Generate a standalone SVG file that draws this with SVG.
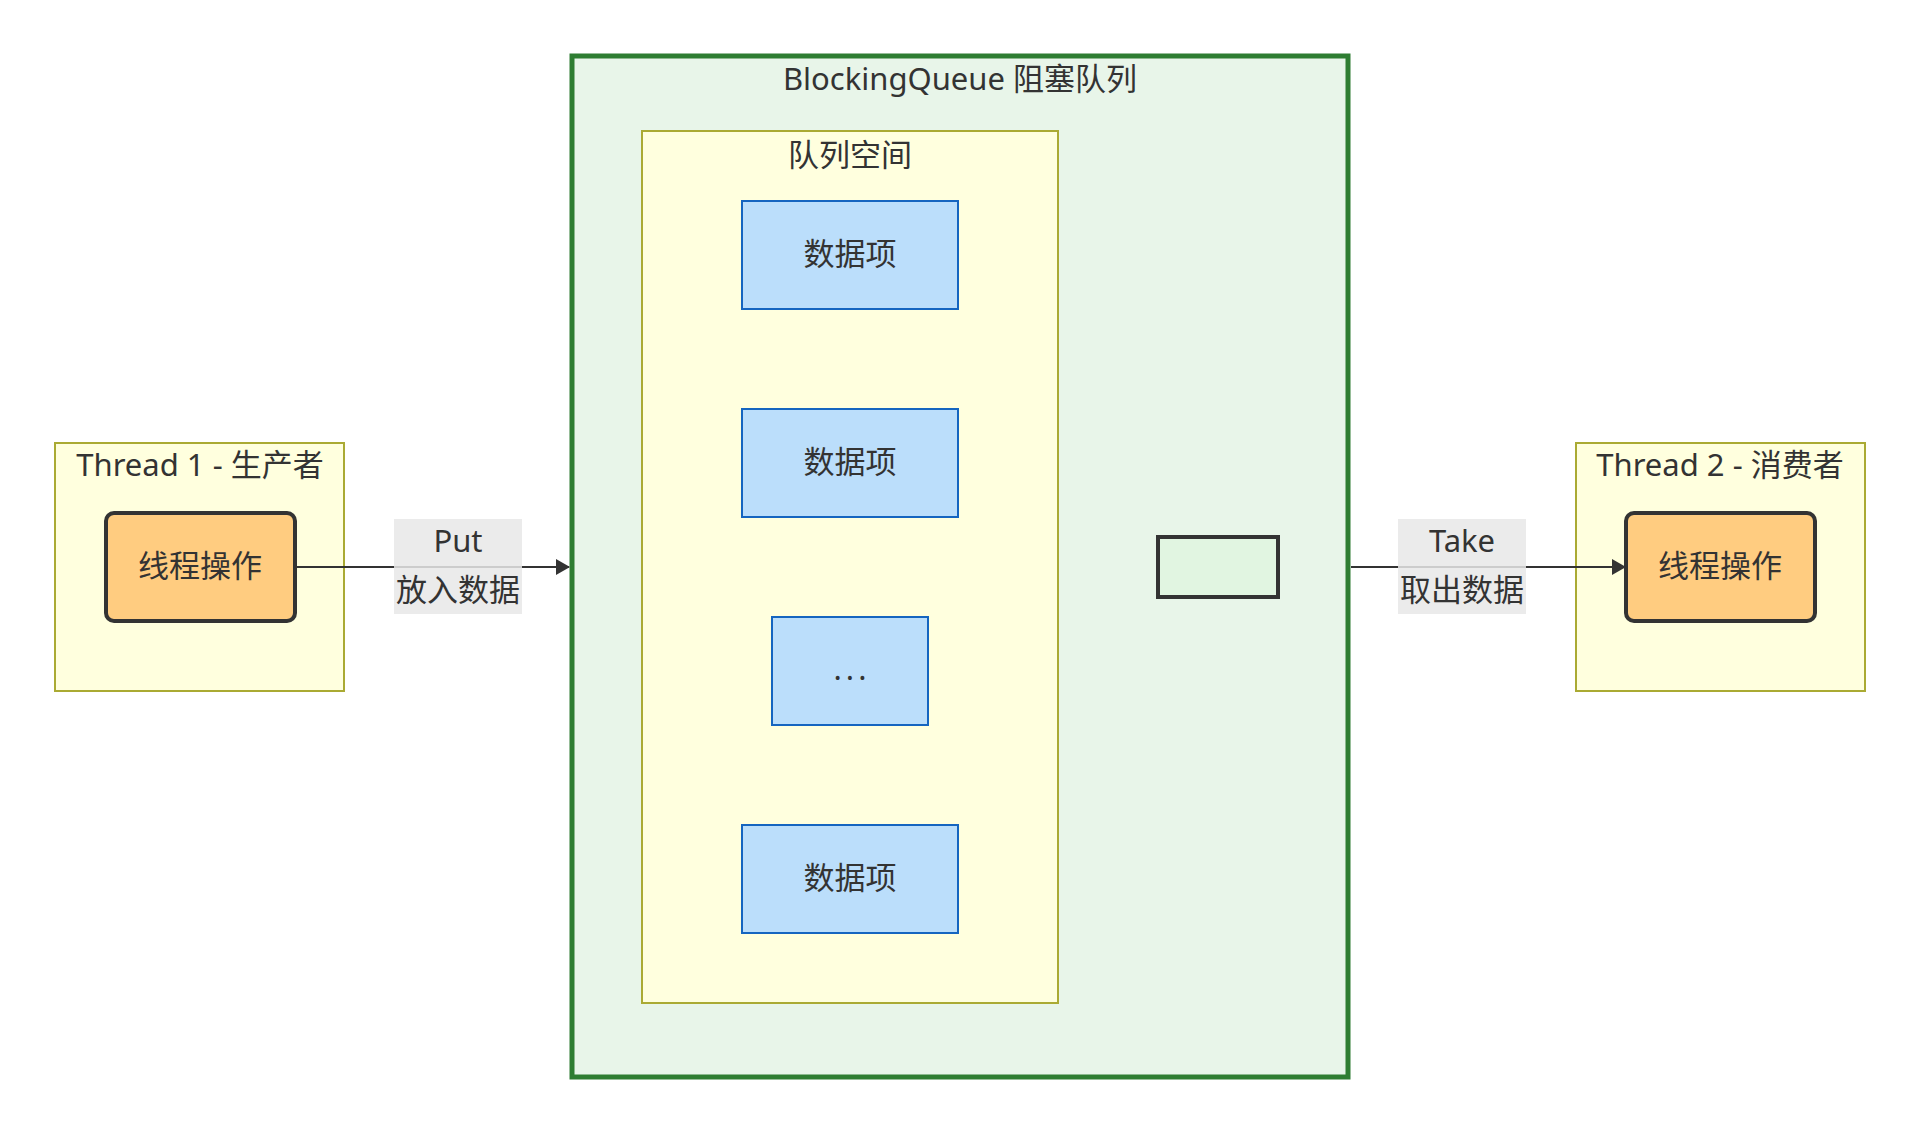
<svg xmlns="http://www.w3.org/2000/svg" width="1920" height="1134" viewBox="0 0 1920 1134">
<style>
  text { font-family: "Noto Sans", "Noto Sans CJK SC", sans-serif; font-size: 31px; fill: #333333; text-anchor: middle; }
  .cluster { fill: #ffffde; stroke: #aaaa33; stroke-width: 2; }
  .thread { fill: #ffcc80; stroke: #333333; stroke-width: 4; }
  .item { fill: #bbdefb; stroke: #1565c0; stroke-width: 2; }
  .edge { fill: none; stroke: #333333; stroke-width: 2; }
  .elabel { fill: #e8e8e8; fill-opacity: 0.85; }
</style>
<defs>
  <marker id="arrow" markerUnits="userSpaceOnUse" markerWidth="14" markerHeight="16" viewBox="0 0 14 16" refX="13" refY="8" orient="auto">
    <path d="M0,0 L14,8 L0,16 z" fill="#333333"/>
  </marker>
</defs>
<rect width="1920" height="1134" fill="#ffffff"/>

<g id="blockingqueue">
  <rect x="572" y="56" width="776" height="1021" fill="#e8f5e9" stroke="#2e7d32" stroke-width="5"/>
  <text x="960" y="90">BlockingQueue 阻塞队列</text>
</g>
<g id="queue-space">
  <rect class="cluster" x="642" y="131" width="416" height="872"/>
  <text x="850" y="166">队列空间</text>
</g>
<g id="item1">
  <rect class="item" x="742" y="201" width="216" height="108"/>
  <text x="850" y="265">数据项</text>
</g>
<g id="item2">
  <rect class="item" x="742" y="409" width="216" height="108"/>
  <text x="850" y="473">数据项</text>
</g>
<g id="item3">
  <rect class="item" x="772" y="617" width="156" height="108"/>
  <text x="852" y="680" letter-spacing="4">...</text>
</g>
<g id="item4">
  <rect class="item" x="742" y="825" width="216" height="108"/>
  <text x="850" y="889">数据项</text>
</g>
<g id="empty-node">
  <rect x="1158" y="537" width="120" height="60" fill="#e1f5e1" stroke="#333333" stroke-width="4"/>
</g>

<g id="thread1">
  <rect class="cluster" x="55" y="443" width="289" height="248"/>
  <text x="200" y="476">Thread 1 - 生产者</text>
</g>
<g id="producer">
  <rect class="thread" x="106" y="513" width="189" height="108" rx="8"/>
  <text x="200" y="577">线程操作</text>
</g>
<g id="thread2">
  <rect class="cluster" x="1576" y="443" width="289" height="248"/>
  <text x="1720" y="476">Thread 2 - 消费者</text>
</g>
<g id="consumer">
  <rect class="thread" x="1626" y="513" width="189" height="108" rx="8"/>
  <text x="1720" y="577">线程操作</text>
</g>

<g id="connectors">
  <line class="edge" x1="295" y1="567" x2="569" y2="567" marker-end="url(#arrow)"/>
  <rect class="elabel" x="394" y="519" width="128" height="95"/>
  <text x="458" y="552">Put</text>
  <text x="458" y="601">放入数据</text>
  <line class="edge" x1="1351" y1="567" x2="1625" y2="567" marker-end="url(#arrow)"/>
  <rect class="elabel" x="1398" y="519" width="128" height="95"/>
  <text x="1462" y="552">Take</text>
  <text x="1462" y="601">取出数据</text>
</g>
</svg>
